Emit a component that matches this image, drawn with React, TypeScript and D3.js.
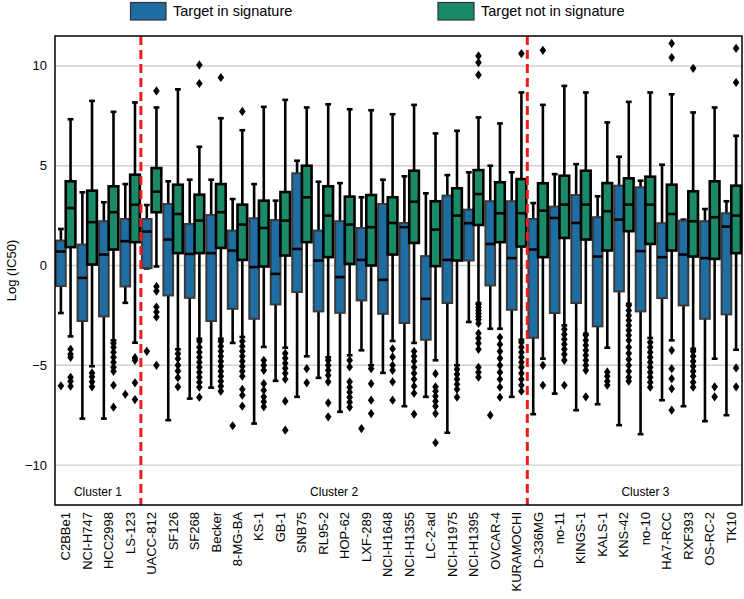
import React from "react";
import * as d3 from "d3";

// cell lines, in plotting order
const categories = [
  "C2BBe1", "NCI-H747", "HCC2998", "LS-123", "UACC-812", "SF126", "SF268", "Becker",
  "8-MG-BA", "KS-1", "GB-1", "SNB75", "RL95-2", "HOP-62", "LXF-289", "NCI-H1648",
  "NCI-H1355", "LC-2-ad", "NCI-H1975", "NCI-H1395", "OVCAR-4", "KURAMOCHI", "D-336MG", "no-11",
  "KINGS-1", "KALS-1", "KNS-42", "no-10", "HA7-RCC", "RXF393", "OS-RC-2", "TK10",
];

// "Target in signature" box stats
const inHigh = [1.83, 3.67, 3.17, 4.08, 3.03, 4.22, 4.3, 4.3, 3.33, 4.08, 3.25, 5.25, 4.2, 4.13, 3.42, 4.3, 4.47, 3.62, 4.53, 4.67, 5.0, 4.67, 3.13, 4.58, 5.08, 3.47, 5.45, 4.25, 5.05, 2.3, 2.83, 3.22];
const inQ3 = [1.25, 1.05, 2.22, 2.33, 2.33, 3.08, 2.08, 2.53, 1.75, 2.37, 2.28, 4.62, 1.75, 2.22, 1.88, 3.08, 2.13, 0.47, 3.5, 2.8, 3.22, 3.22, 2.33, 2.95, 3.53, 2.42, 4.0, 3.92, 2.12, 2.25, 2.22, 2.62];
const inMedian = [0.7, -0.62, 0.55, 1.22, 1.7, 1.3, 0.58, 0.62, 0.75, -0.08, -0.42, 0.83, 0.25, -0.58, 0.28, -0.72, 1.92, -1.67, 0.28, 2.12, 1.08, 0.37, 0.8, 2.38, 2.13, 0.45, 2.3, 0.72, 0.42, 0.55, 0.37, 1.95];
const inQ1 = [-1.03, -2.78, -2.55, -1.05, -0.13, -1.5, -1.62, -2.78, -2.17, -2.67, -1.95, -1.33, -2.3, -2.37, -1.75, -2.42, -2.88, -3.72, -1.88, 0.25, -1.0, -2.22, -3.62, -2.38, -1.88, -3.05, -1.3, -2.3, -1.63, -2.0, -2.67, -2.45];
const inLow = [-2.38, -7.67, -7.67, -1.87, -0.15, -7.75, -6.67, -6.12, -3.88, -7.92, -5.78, -6.58, -5.63, -7.33, -4.25, -5.38, -7.05, -6.58, -8.38, -2.83, -3.17, -6.58, -7.45, -6.42, -7.25, -6.95, -8.0, -8.45, -6.75, -7.05, -7.8, -7.5];
const inOutliers = [
  [-6.03], [], [], [-6.45], [-4.3], [], [], [], [-8.03], [], [], [], [], [], [-8.17], [],
  [], [], [], [], [-7.5], [], [], [], [], [], [], [], [], [], [], [],
];

// "Target not in signature" box stats
const notHigh = [7.33, 8.25, 7.7, 8.17, 7.92, 8.83, 5.95, 7.38, 6.78, 7.95, 8.3, 7.92, 8.08, 7.83, 7.78, 7.58, 8.05, 6.62, 6.75, 7.42, 7.12, 8.67, 8.05, 9.0, 8.67, 7.17, 8.2, 8.67, 8.58, 7.67, 7.92, 6.5];
const notQ3 = [4.22, 3.75, 3.97, 4.55, 4.88, 4.05, 3.55, 4.08, 3.05, 3.25, 3.68, 5.0, 3.97, 3.45, 3.53, 3.42, 4.75, 3.22, 3.87, 4.78, 4.17, 4.33, 4.12, 4.5, 4.75, 4.13, 4.37, 4.45, 4.05, 3.72, 4.22, 4.0];
const notMedian = [2.88, 2.17, 2.67, 3.05, 3.7, 2.58, 2.25, 2.67, 2.05, 1.88, 2.25, 3.42, 2.5, 2.05, 1.92, 2.13, 3.2, 1.8, 2.5, 3.58, 2.62, 2.62, 2.75, 3.05, 3.05, 2.72, 3.05, 3.05, 2.58, 2.22, 2.42, 2.5];
const notQ1 = [0.92, 0.05, 0.8, 1.17, 2.67, 0.62, 0.62, 0.88, 0.28, -0.05, 0.5, 1.17, 0.42, 0.08, 0.0, 0.55, 1.13, -0.03, 0.25, 2.03, 1.17, 0.95, 0.42, 1.38, 1.3, 0.75, 1.72, 1.08, 0.75, 0.45, 0.33, 0.62];
const notLow = [-3.55, -5.05, -3.75, -3.87, -0.05, -4.2, -3.67, -3.67, -3.58, -4.08, -4.12, -4.55, -4.6, -4.5, -5.0, -3.78, -3.88, -4.75, -5.0, -1.88, -3.17, -3.72, -4.67, -3.0, -3.42, -4.12, -1.92, -3.63, -3.75, -4.17, -4.67, -4.22];
const notOutliers = [
  [-4.2, -4.45, -4.6, -5.6, -5.8, -6.05],
  [-5.38, -5.58, -5.83, -6.08],
  [-3.9, -4.1, -4.35, -4.6, -4.85, -5.1, -5.3, -6.0, -7.1],
  [-4.62, -4.75, -5.88, -6.72],
  [8.75, -1.05, -1.28, -2.08, -2.33, -2.58, -5.0],
  [-4.42, -4.67, -5.0, -5.28, -5.62, -6.08],
  [10.05, 9.12, -3.8, -4.1, -4.35, -4.6, -4.85, -5.1, -5.35, -5.6, -5.85, -6.1, -6.6],
  [9.42, -3.8, -4.05, -4.3, -4.55, -4.8, -5.05, -5.3, -5.55, -5.8, -6.05, -6.3],
  [7.72, -3.8, -4.05, -4.3, -4.55, -4.8, -5.05, -5.3, -5.55, -6.2, -6.5, -7.05],
  [-4.75, -5.0, -5.25, -5.92, -6.25, -6.58, -6.83, -7.08],
  [-4.4, -4.65, -4.9, -5.15, -5.4, -5.7, -6.8, -8.25],
  [-5.17, -5.88],
  [-4.75, -5.0, -5.25, -5.5, -5.83, -6.88, -7.58],
  [-4.75, -5.08, -5.83, -6.1, -6.35, -6.6, -6.85, -7.1],
  [-5.17, -5.92, -6.75, -7.42],
  [-4.17, -4.58, -5.0, -5.25, -5.83, -6.75],
  [-4.3, -4.55, -4.8, -5.1, -5.4, -5.7, -6.05, -6.4, -7.45],
  [-5.42, -6.08, -6.3, -6.55, -6.8, -7.05, -7.42, -8.88],
  [-5.2, -5.45, -5.7, -5.95, -6.2, -6.6],
  [10.5, 10.17, 9.55, -1.95, -2.1, -2.25, -2.4, -2.55, -2.7, -2.9, -3.4, -3.65, -3.9, -4.2, -5.1, -5.35, -5.6],
  [-3.6, -3.95, -4.3, -4.65, -5.0, -5.35, -5.7, -6.1, -6.6],
  [10.62, -3.85, -4.1, -4.35, -4.6, -4.85, -5.1, -5.4, -5.7, -6.0, -6.3],
  [10.78, -5.0, -6.0],
  [-3.2, -3.45, -3.7, -3.95, -4.2, -4.45, -4.75, -6.0],
  [-3.5, -3.75, -4.0, -4.25, -4.5, -4.75, -5.0, -5.25, -6.58],
  [-5.33, -5.55, -5.8, -6.0],
  [-2.0, -2.25, -2.5, -2.75, -3.0, -3.25, -3.5, -3.75, -4.1, -4.4, -4.7, -5.0, -5.3, -5.6, -5.8],
  [-3.85, -4.1, -4.35, -4.6, -4.85, -5.1, -5.35, -5.6, -5.85, -6.1],
  [11.13, 10.42, -4.25, -5.17, -5.67, -6.17, -7.25],
  [9.88, -4.3, -4.55, -4.8, -5.05, -5.3, -5.55, -5.85, -6.1],
  [-6.08, -6.58],
  [10.88, 9.17, -5.13, -6.08],
];

const yTicks = [-10, -5, 0, 5, 10];
const clusterNames = ["Cluster 1", "Cluster 2", "Cluster 3"];
const clusterLabelAt = [1.5, 12.5, 27]; // category position of each label
const clusterBreaks = [4, 22]; // index of first category of next cluster

const W = 744;
const H = 599;
const M = { top: 36, right: 2, bottom: 94, left: 55 };
const FONT = "'Liberation Sans', Arial, Helvetica, sans-serif";

const series = [
  { key: "in", label: "Target in signature", fill: "#1f6ea3", edge: "#3a3a3a", edgeW: 2,
    high: inHigh, q3: inQ3, med: inMedian, q1: inQ1, low: inLow, out: inOutliers },
  { key: "not", label: "Target not in signature", fill: "#1b8a68", edge: "#000", edgeW: 2.6,
    high: notHigh, q3: notQ3, med: notMedian, q1: notQ1, low: notLow, out: notOutliers },
];

export default function App() {
  const x = d3.scaleBand().domain(categories).range([M.left, W - M.right]).padding(0);
  const inner = d3
    .scaleBand()
    .domain(series.map((s) => s.key))
    .range([x.bandwidth() * 0.05, x.bandwidth() * 0.95])
    .padding(0);
  const y = d3.scaleLinear().domain([-12, 11.5]).range([H - M.bottom, M.top]);
  const bw = inner.bandwidth();
  const capW = bw * 0.6;
  const diamond = (cx: number, cy: number) =>
    `M${cx},${cy - 4.6}L${cx + 3.3},${cy}L${cx},${cy + 4.6}L${cx - 3.3},${cy}Z`;

  const x0 = M.left;
  const x1 = W - M.right;
  const y0 = M.top;
  const y1 = H - M.bottom;

  return (
    <svg width={W} height={H} style={{ position: "absolute", left: 0, top: 0, background: "#fff" }} fontFamily={FONT}>
      {/* legend */}
      <g>
        <rect x={130.5} y={2.5} width={35.5} height={17.5} fill={series[0].fill} stroke="#333" strokeWidth={1.2} />
        <text x={173} y={16} fontSize={14.5}>{series[0].label}</text>
        <rect x={438} y={2.5} width={36} height={17.5} fill={series[1].fill} stroke="#333" strokeWidth={1.2} />
        <text x={481} y={16} fontSize={14.5}>{series[1].label}</text>
      </g>

      {/* grid */}
      {yTicks.map((t) => (
        <line key={t} x1={x0} x2={x1} y1={y(t)} y2={y(t)} stroke="#cfcfcf" strokeWidth={1.4} />
      ))}

      {/* boxes */}
      {categories.map((c, i) => (
        <g key={c}>
          {series.map((s) => {
            const left = (x(c) ?? 0) + (inner(s.key) ?? 0);
            const cx = left + bw / 2;
            return (
              <g key={s.key}>
                <line x1={cx} x2={cx} y1={y(s.q3[i])} y2={y(s.high[i])} stroke="#000" strokeWidth={2.6} />
                <line x1={cx} x2={cx} y1={y(s.q1[i])} y2={y(s.low[i])} stroke="#000" strokeWidth={2.6} />
                <line x1={cx - capW / 2} x2={cx + capW / 2} y1={y(s.high[i])} y2={y(s.high[i])} stroke="#000" strokeWidth={2.6} />
                <line x1={cx - capW / 2} x2={cx + capW / 2} y1={y(s.low[i])} y2={y(s.low[i])} stroke="#000" strokeWidth={2.6} />
                <rect
                  x={left}
                  y={y(s.q3[i])}
                  width={bw}
                  height={Math.max(0.5, y(s.q1[i]) - y(s.q3[i]))}
                  fill={s.fill}
                  stroke={s.edge}
                  strokeWidth={s.edgeW}
                />
                <line x1={left} x2={left + bw} y1={y(s.med[i])} y2={y(s.med[i])} stroke="#000" strokeWidth={2.6} />
                {s.out[i].map((v, k) => (
                  <path key={k} d={diamond(cx, y(v))} fill="#000" />
                ))}
              </g>
            );
          })}
        </g>
      ))}

      {/* cluster separators */}
      {clusterBreaks.map((b) => {
        const bx = x(categories[b]) ?? 0;
        return (
          <line key={b} x1={bx} x2={bx} y1={y0} y2={y1} stroke="#ee1c1c" strokeWidth={3} strokeDasharray="9,5" />
        );
      })}

      {/* cluster labels */}
      {clusterNames.map((n, k) => (
        <text
          key={n}
          x={x0 + x.step() * (clusterLabelAt[k] + 0.5)}
          y={y(-11.35)}
          fontSize={12}
          textAnchor="middle"
          dominantBaseline="central"
        >
          {n}
        </text>
      ))}

      {/* frame */}
      <rect x={x0} y={y0} width={x1 - x0} height={y1 - y0} fill="none" stroke="#000" strokeWidth={1.5} />

      {/* y axis */}
      {yTicks.map((t) => (
        <text key={t} x={47} y={y(t)} fontSize={13} textAnchor="end" dominantBaseline="central">
          {t < 0 ? `\u2212${Math.abs(t)}` : t}
        </text>
      ))}
      <text
        transform={`translate(11,${(y0 + y1) / 2}) rotate(-90)`}
        fontSize={13}
        textAnchor="middle"
        dominantBaseline="central"
      >
        Log (IC50)
      </text>

      {/* x axis labels */}
      {categories.map((c) => (
        <text
          key={c}
          transform={`translate(${(x(c) ?? 0) + x.bandwidth() / 2},${y1 + 7}) rotate(-90)`}
          fontSize={13}
          textAnchor="end"
          dominantBaseline="central"
        >
          {c}
        </text>
      ))}
    </svg>
  );
}
